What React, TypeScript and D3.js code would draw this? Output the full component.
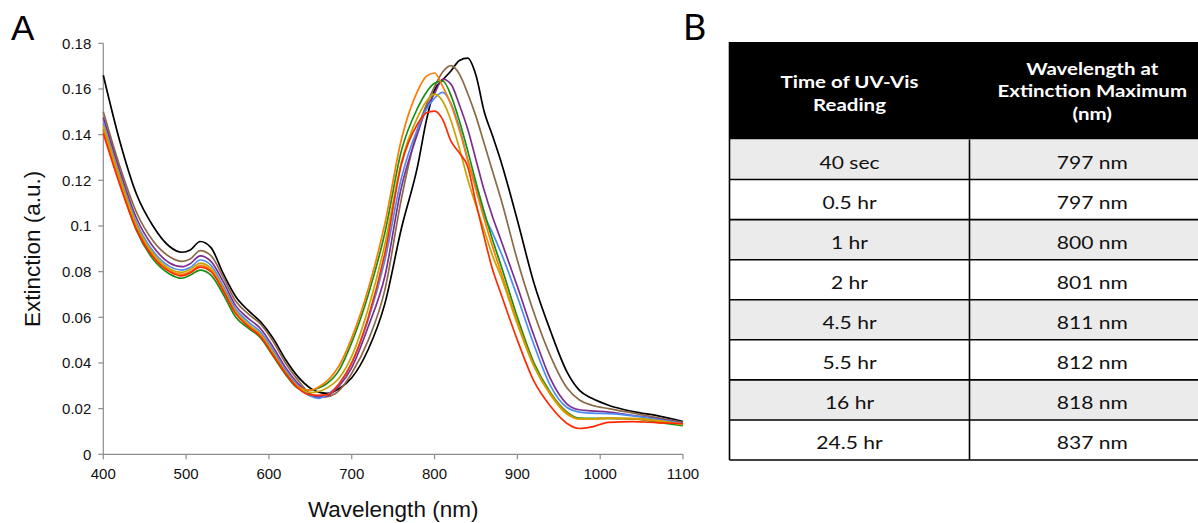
import React from "react";
import * as d3 from "d3";

// ---------- data ----------
const wavelengths = [400, 420, 440, 460, 480, 495, 505, 517, 530, 545, 560, 575, 590, 605, 620, 635, 650, 660, 670, 685, 700, 720, 740, 760, 780, 790, 800, 810, 820, 830, 840, 850, 860, 870, 880, 900, 920, 940, 960, 975, 990, 1010, 1040, 1070, 1100];

const ext24_5hr = [.166, .137, .114, .100, .091, .0885, .0895, .0932, .0905, .079, .069, .063, .058, .0508, .0415, .034, .029, .0272, .0267, .0288, .0335, .046, .066, .099, .127, .146, .1595, .164, .168, .1725, .1735, .166, .150, .1395, .1285, .1025, .075, .054, .036, .028, .0245, .0215, .0187, .0168, .0143];
const ext16hr = [.150, .126, .106, .0935, .0865, .0845, .0855, .0892, .087, .0775, .067, .0615, .057, .0495, .040, .0325, .0265, .025, .0252, .028, .0355, .050, .072, .112, .143, .153, .161, .1675, .1702, .1665, .158, .148, .136, .124, .112, .085, .062, .043, .029, .0238, .0215, .020, .018, .016, .014];
const ext5_5hr = [.1475, .124, .1035, .091, .0838, .0822, .0835, .0869, .0845, .0755, .065, .0595, .055, .047, .038, .031, .026, .025, .0255, .030, .038, .056, .078, .117, .141, .1515, .158, .1643, .162, .153, .1425, .129, .1155, .104, .094, .0735, .052, .033, .022, .0195, .019, .0185, .017, .0155, .0135];
const ext4_5hr = [.145, .122, .1015, .089, .0823, .0807, .0818, .0851, .0828, .0735, .0635, .058, .0535, .0455, .037, .030, .0255, .0245, .026, .031, .040, .059, .085, .121, .143, .151, .156, .1585, .1535, .143, .129, .117, .1045, .097, .0885, .069, .048, .030, .0205, .0185, .018, .0178, .0168, .0152, .0135];
const ext2hr = [.142, .119, .098, .0855, .079, .0771, .0785, .0807, .0785, .070, .060, .0553, .051, .043, .035, .029, .028, .029, .031, .037, .049, .070, .097, .133, .152, .1585, .1625, .1635, .157, .146, .133, .119, .106, .094, .083, .060, .040, .027, .0185, .0158, .0157, .0157, .0155, .014, .0125];
const ext0_5hr = [.1425, .1195, .0995, .087, .0805, .0788, .080, .0827, .0805, .072, .062, .0565, .052, .044, .036, .0295, .028, .0295, .032, .039, .051, .0725, .101, .138, .1595, .1655, .167, .161, .153, .142, .129, .116, .103, .091, .080, .058, .039, .0265, .018, .0155, .0155, .0157, .0155, .0145, .013];
const ext1hr = [.144, .121, .1005, .088, .0813, .0797, .081, .0837, .0815, .0725, .0625, .057, .0525, .0445, .036, .0295, .027, .0275, .029, .0335, .043, .064, .092, .128, .148, .1545, .1577, .1545, .146, .134, .1205, .109, .098, .087, .078, .057, .0385, .026, .0175, .0155, .0155, .0158, .0157, .0148, .0132];
const ext40sec = [.1405, .118, .0985, .0865, .080, .0781, .0795, .082, .080, .0715, .0615, .056, .0515, .0435, .0355, .029, .026, .0258, .026, .031, .040, .060, .088, .127, .145, .1495, .1503, .1465, .137, .132, .126, .110, .095, .081, .0705, .050, .032, .021, .0135, .0113, .012, .014, .0143, .0138, .0135];

const seriesNames = ["24.5 hr", "16 hr", "5.5 hr", "4.5 hr", "2 hr", "0.5 hr", "1 hr", "40 sec"];
const seriesValues = [ext24_5hr, ext16hr, ext5_5hr, ext4_5hr, ext2hr, ext0_5hr, ext1hr, ext40sec];
const seriesColors = ["#000000", "#8a6a45", "#7d2e91", "#4b8df5", "#139113", "#ff7b00", "#c9a400", "#ff2a00"];

const xTicks = [400, 500, 600, 700, 800, 900, 1000, 1100];
const yTicks = [0, 0.02, 0.04, 0.06, 0.08, 0.1, 0.12, 0.14, 0.16, 0.18];

const tableHeaderLeft = ["Time of UV-Vis", "Reading"];
const tableHeaderRight = ["Wavelength at", "Extinction Maximum", "(nm)"];
const readingTimes = ["40 sec", "0.5 hr", "1 hr", "2 hr", "4.5 hr", "5.5 hr", "16 hr", "24.5 hr"];
const peakWavelengths = ["797 nm", "797 nm", "800 nm", "801 nm", "811 nm", "812 nm", "818 nm", "837 nm"];

// ---------- layout ----------
const W = 1198;
const H = 523;
const plot = { left: 103.3, right: 683, top: 43.3, bottom: 454.3 };
const tbl = { left: 729.5, right: 1215, top: 42, headerBottom: 139.5, bottom: 460, mid: 969.5 };

export default function App() {
  const x = d3.scaleLinear().domain([400, 1100]).range([plot.left, plot.right]);
  const y = d3.scaleLinear().domain([0, 0.18]).range([plot.bottom, plot.top]);
  const line = d3
    .line<number>()
    .x((_, i) => x(wavelengths[i]))
    .y((v) => y(v))
    .curve(d3.curveMonotoneX);

  const axisColor = "#8c8c8c";
  const chartFont = "'Liberation Sans', Arial, Helvetica, sans-serif";
  const tableFont = "Lato, 'Open Sans', sans-serif";
  const rowH = (tbl.bottom - tbl.headerBottom) / readingTimes.length;
  const cxL = (tbl.left + tbl.mid) / 2;
  const cxR = (tbl.mid + tbl.right) / 2;
  const sx = 1.17;

  const stretched = (cx: number, baseline: number, txt: string, props: any) => (
    <text
      key={txt + baseline + cx}
      transform={`translate(${cx},${baseline}) scale(${sx},1)`}
      textAnchor="middle"
      fontFamily={tableFont}
      {...props}
    >
      {txt}
    </text>
  );

  return (
    <svg
      width={W}
      height={H}
      style={{ position: "absolute", left: 0, top: 0, background: "#fff" }}
    >
      <rect x={0} y={0} width={W} height={H} fill="#fff" />
      {/* Panel labels */}
      <text x={11} y={40} fontFamily={chartFont} fontSize={35}>A</text>
      <text x={683} y={40} fontFamily={tableFont} fontSize={36}>B</text>

      {/* axes */}
      <line x1={plot.left} x2={plot.left} y1={plot.top} y2={plot.bottom} stroke={axisColor} strokeWidth={1.2} />
      <line x1={plot.left} x2={plot.right} y1={plot.bottom} y2={plot.bottom} stroke={axisColor} strokeWidth={1.2} />
      {yTicks.map((t) => (
        <g key={"y" + t}>
          <line x1={plot.left - 5} x2={plot.left} y1={y(t)} y2={y(t)} stroke={axisColor} strokeWidth={1.2} />
          <text x={plot.left - 12} y={y(t) + 5.3} textAnchor="end" fontFamily={chartFont} fontSize={15} fill="#111">
            {String(+t.toFixed(2))}
          </text>
        </g>
      ))}
      {xTicks.map((t) => (
        <g key={"x" + t}>
          <line x1={x(t)} x2={x(t)} y1={plot.bottom} y2={plot.bottom + 5} stroke={axisColor} strokeWidth={1.2} />
          <text x={x(t)} y={478.5} textAnchor="middle" fontFamily={chartFont} fontSize={15} fill="#111">
            {t}
          </text>
        </g>
      ))}
      <text x={(plot.left + plot.right) / 2} y={517} textAnchor="middle" fontFamily={chartFont} fontSize={22.5} fill="#111">
        Wavelength (nm)
      </text>
      <text
        transform={`translate(39.5,${(plot.top + plot.bottom) / 2}) rotate(-90)`}
        textAnchor="middle"
        fontFamily={chartFont}
        fontSize={22.5}
        fill="#111"
      >
        Extinction (a.u.)
      </text>

      {/* spectra */}
      {seriesValues.map((vals, i) => (
        <path
          key={seriesNames[i]}
          d={line(vals) || ""}
          fill="none"
          stroke={seriesColors[i]}
          strokeWidth={1.7}
          strokeLinejoin="round"
        />
      ))}

      {/* table */}
      <rect x={tbl.left} y={tbl.top} width={tbl.right - tbl.left} height={tbl.headerBottom - tbl.top} fill="#000" />
      {readingTimes.map((t, i) => (
        <rect
          key={"bg" + t}
          x={tbl.left}
          y={tbl.headerBottom + i * rowH}
          width={tbl.right - tbl.left}
          height={rowH}
          fill={i % 2 === 0 ? "#ebebeb" : "#ffffff"}
        />
      ))}
      {readingTimes.map((t, i) => (
        <line
          key={"hl" + t}
          x1={tbl.left}
          x2={tbl.right}
          y1={tbl.headerBottom + (i + 1) * rowH}
          y2={tbl.headerBottom + (i + 1) * rowH}
          stroke="#000"
          strokeWidth={1.6}
        />
      ))}
      <line x1={tbl.left} x2={tbl.left} y1={tbl.top} y2={tbl.bottom} stroke="#000" strokeWidth={1.6} />
      <line x1={tbl.mid} x2={tbl.mid} y1={tbl.headerBottom} y2={tbl.bottom} stroke="#000" strokeWidth={1.6} />

      {tableHeaderLeft.map((t, i) =>
        stretched(cxL, 88 + i * 22.5, t, { fontSize: 17.5, fontWeight: 700, fill: "#fff" })
      )}
      {tableHeaderRight.map((t, i) =>
        stretched(cxR, 74.5 + i * 22.5, t, { fontSize: 17.5, fontWeight: 700, fill: "#fff" })
      )}
      {readingTimes.map((t, i) =>
        stretched(cxL, tbl.headerBottom + i * rowH + 29, t, { fontSize: 18, fill: "#111" })
      )}
      {peakWavelengths.map((t, i) =>
        stretched(cxR, tbl.headerBottom + i * rowH + 29, t, { fontSize: 18, fill: "#111" })
      )}
    </svg>
  );
}
